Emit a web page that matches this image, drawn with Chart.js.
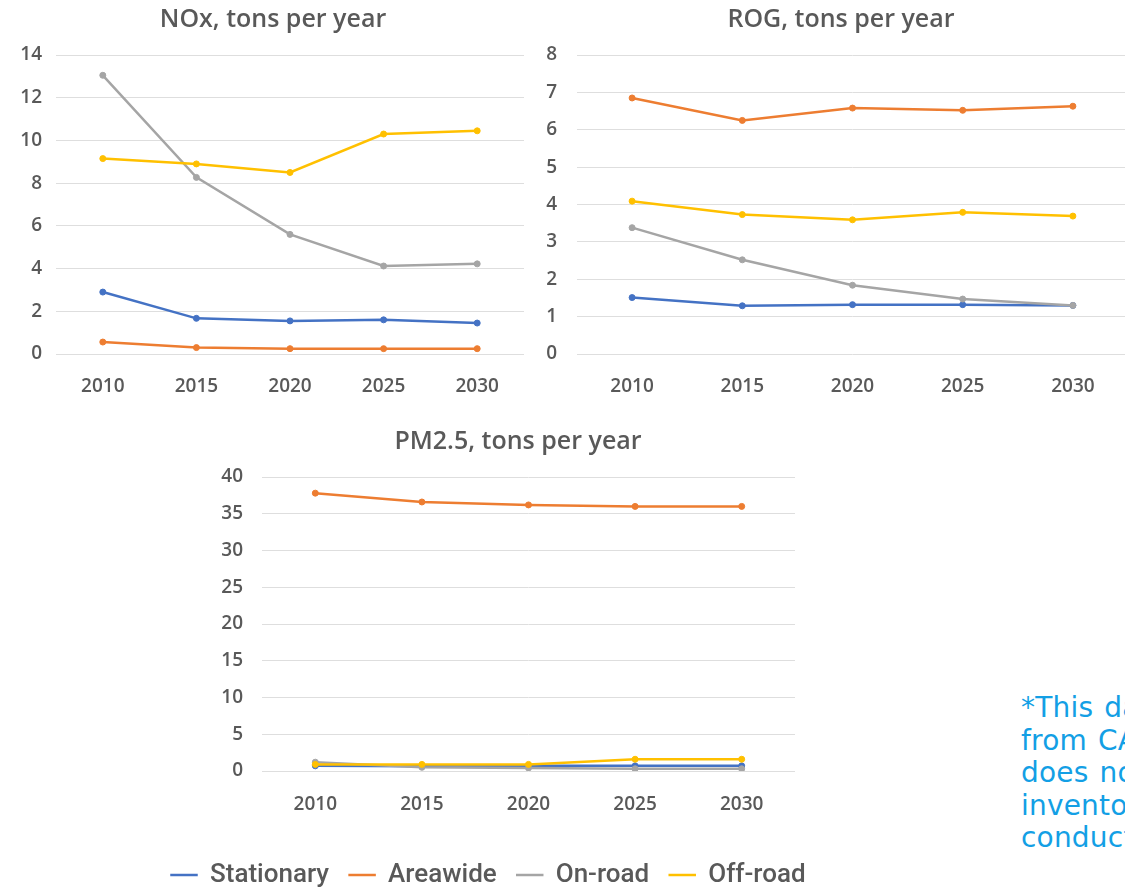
<!DOCTYPE html>
<html>
<head>
<meta charset="utf-8">
<script src="https://cdn.jsdelivr.net/npm/chart.js@4"></script>
<style>
  html, body { margin: 0; padding: 0; background: #fff; width: 1125px; height: 888px; overflow: hidden; position: relative; }
  .box { position: absolute; }
  #note { position: absolute; left: 1021px; top: 692px; color: #139fe5; font: 28px/32.6px "DejaVu Sans", Verdana, sans-serif; white-space: nowrap; letter-spacing: 0.2px; word-spacing: 2px; }
</style>
</head>
<body>
<div class="box" style="left:0;top:0"><canvas id="nox" width="560" height="400"></canvas></div>
<div class="box" style="left:540px;top:0"><canvas id="rog" width="600" height="400"></canvas></div>
<div class="box" style="left:140px;top:420px"><canvas id="pm" width="760" height="490"></canvas></div>
<div id="note">*This data<br>from CARB<br>does not<br>inventory<br>conducted</div>
<script>
// ---- data ----
const years = ['2010', '2015', '2020', '2025', '2030'];
const seriesNames = ['Stationary', 'Areawide', 'On-road', 'Off-road'];
const seriesColors = ['#4472C4', '#ED7D31', '#A5A5A5', '#FFC000'];

const noxStationary = [2.9, 1.67, 1.55, 1.6, 1.45];
const noxAreawide   = [0.56, 0.3, 0.25, 0.25, 0.25];
const noxOnroad     = [13.05, 8.27, 5.6, 4.12, 4.22];
const noxOffroad    = [9.15, 8.9, 8.5, 10.3, 10.45];
const noxTicks = [0, 2, 4, 6, 8, 10, 12, 14];

const rogStationary = [1.51, 1.29, 1.32, 1.32, 1.3];
const rogAreawide   = [6.85, 6.25, 6.58, 6.52, 6.63];
const rogOnroad     = [3.38, 2.52, 1.84, 1.47, 1.3];
const rogOffroad    = [4.09, 3.73, 3.59, 3.79, 3.69];
const rogTicks = [0, 1, 2, 3, 4, 5, 6, 7, 8];

const pmStationary = [0.7, 0.65, 0.7, 0.7, 0.7];
const pmAreawide   = [37.8, 36.6, 36.2, 36.0, 36.0];
const pmOnroad     = [1.2, 0.5, 0.4, 0.3, 0.3];
const pmOffroad    = [0.9, 0.9, 0.9, 1.6, 1.6];
const pmTicks = [0, 5, 10, 15, 20, 25, 30, 35, 40];

// ---- helpers ----
const FONT = '"Open Sans", "Noto Sans", sans-serif';
const GREY = '#595959';

function makeDatasets(values) {
  return values.map((v, i) => ({
    label: seriesNames[i],
    data: v,
    borderColor: seriesColors[i],
    backgroundColor: seriesColors[i],
    borderWidth: 2.5,
    pointRadius: 3,
    pointHoverRadius: 3,
    pointBorderWidth: 1,
    tension: 0,
    order: values.length - i
  }));
}

function makeChart(id, title, values, yTicks, cfg) {
  const scales = {
    x: {
      offset: true,
      grid: { display: false, offset: true },
      border: { display: false },
      ticks: { color: GREY, font: { family: FONT, size: 19, weight: '600' }, padding: cfg.xPad },
      afterFit: s => { s.height = cfg.xH; }
    },
    y: {
      min: yTicks[0],
      max: yTicks[yTicks.length - 1],
      afterBuildTicks: s => { s.ticks = yTicks.map(v => ({ value: v })); },
      grid: { color: '#dedede', lineWidth: 1, drawTicks: false },
      border: { display: false },
      ticks: { color: GREY, font: { family: FONT, size: 19, weight: '600' }, padding: cfg.yPad },
      afterFit: s => { s.width = cfg.yW; }
    },
    y2: {
      position: 'right',
      grid: { display: false },
      border: { display: false },
      ticks: { display: false },
      afterFit: s => { s.width = cfg.rightW; }
    }
  };
  return new Chart(document.getElementById(id), {
    type: 'line',
    data: { labels: years, datasets: makeDatasets(values) },
    options: {
      responsive: false,
      animation: false,
      events: [],
      layout: { padding: cfg.pad },
      plugins: {
        title: {
          display: true, text: title, color: GREY,
          font: { family: FONT, size: 25, weight: '600' },
          padding: cfg.titlePad
        },
        legend: cfg.legend || { display: false },
        tooltip: { enabled: false }
      },
      scales: scales
    }
  });
}

makeChart('nox', 'NOx, tons per year',
  [noxStationary, noxAreawide, noxOnroad, noxOffroad], noxTicks,
  { pad: { left: 18, right: 32, top: 0, bottom: 0 }, titlePad: { top: 5, bottom: 20 },
    xH: 46, xPad: 13, yW: 38, yPad: 14, rightW: 4 });

makeChart('rog', 'ROG, tons per year',
  [rogStationary, rogAreawide, rogOnroad, rogOffroad], rogTicks,
  { pad: { left: 3, right: 1, top: 0, bottom: 0 }, titlePad: { top: 5, bottom: 20 },
    xH: 46, xPad: 13, yW: 34, yPad: 20, rightW: 11 });

makeChart('pm', 'PM2.5, tons per year',
  [pmStationary, pmAreawide, pmOnroad, pmOffroad], pmTicks,
  { pad: { left: 11, right: 15, top: 0, bottom: 12 }, titlePad: { top: 7, bottom: 20 },
    xH: 71, xPad: 14, yW: 111, yPad: 19, rightW: 90,
    legend: {
      display: true, position: 'bottom', align: 'start', reverse: true,
      labels: {
        color: GREY, font: { family: 'Roboto, sans-serif', size: 26, weight: '500' },
        boxWidth: 26, boxHeight: 1, padding: 20,
        generateLabels: chart => Chart.defaults.plugins.legend.labels.generateLabels(chart)
          .map(l => Object.assign({}, l, { lineWidth: 1.5 }))
      }
    } });
</script>
</body>
</html>
